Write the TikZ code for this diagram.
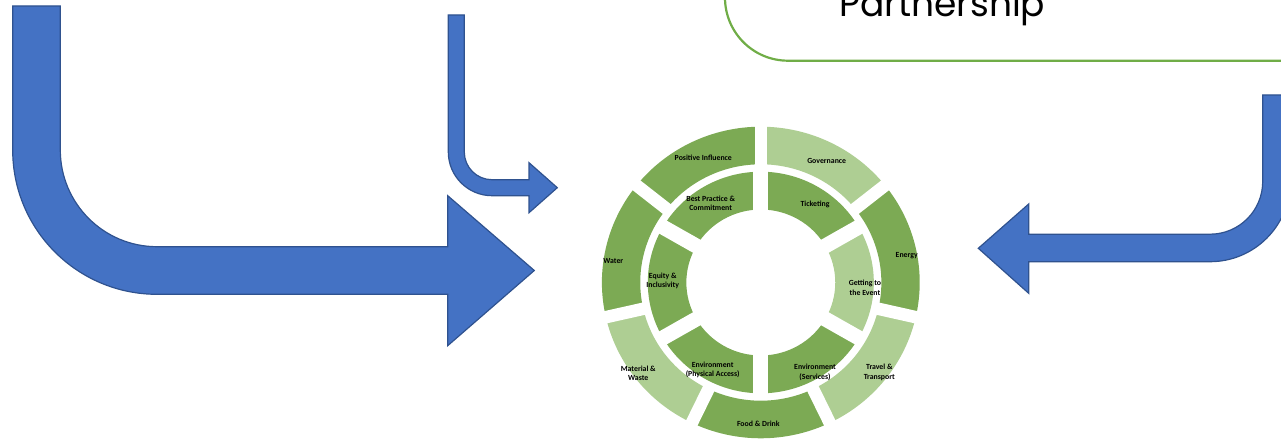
\documentclass[tikz,border=0pt]{standalone}
\usepackage{fontspec}
\setmainfont{Carlito}
\newfontfamily\titlefont{Poppins}
\definecolor{darkseg}{RGB}{124,170,84}
\definecolor{lightseg}{RGB}{174,206,147}
\definecolor{arrowblue}{RGB}{68,114,196}
\definecolor{arrowedge}{RGB}{47,82,143}
\definecolor{boxgreen}{RGB}{112,173,71}
\newcommand\ringseg[5]{\fill[#5] (#1:#3) arc[start angle=#1, end angle=#2, radius=#3] -- (#2:#4) arc[start angle=#2, end angle=#1, radius=#4] -- cycle;}
\begin{document}
\begin{tikzpicture}[x=1pt,y=-1pt,
  arrowshape/.style={fill=arrowblue, draw=arrowedge, line width=1.2pt, line join=miter},
  seglabel/.style={font=\bfseries\fontsize{7.8}{9.4}\selectfont, align=center, inner sep=0pt, text=black},
  gapline/.style={draw=white, line width=#1},
  titlebox/.style={draw=boxgreen, line width=2.2pt, rounded corners=63pt}]
\useasboundingbox (0,0) rectangle (1281,446);

% title box (partly outside the picture)
\draw[titlebox] (725,-120) rectangle (1420,60.7);
\node[font=\titlefont\fontsize{36}{40}\selectfont, anchor=base, inner sep=0pt] (title) at (942.5,17) {Partnership};

% big left arrow
\path[arrowshape] (12.7,6) -- (60.3,6) -- (60.3,150)
  arc[start angle=180, end angle=90, radius=96.7]
  -- (447.7,246.7) -- (447.7,195.7) -- (534.3,270.5) -- (447.7,345.7) -- (447.7,294.3)
  -- (157,294.3) arc[start angle=90, end angle=180, radius=144.3] -- cycle;

% small arrow
\path[arrowshape] (448.3,15) -- (464.3,15) -- (464.3,152)
  arc[start angle=180, end angle=90, radius=27.7]
  -- (529,179.7) -- (529,162.7) -- (557.3,187.7) -- (529,212.7) -- (529,195.7)
  -- (492,195.7) arc[start angle=90, end angle=180, radius=43.7] -- cycle;

% right arrow
\path[arrowshape] (1262.7,95) -- (1262.7,181.5)
  arc[start angle=0, end angle=90, radius=52.7]
  -- (1028.7,234.2) -- (1028.7,204) -- (978.3,248.3) -- (1028.7,293.3) -- (1028.7,261.7)
  -- (1210,261.7) arc[start angle=90, end angle=0, radius=80.2] -- (1290.2,95) -- cycle;

% doughnut
\begin{scope}[shift={(760.8,282.5)}, yscale=-1, xscale=1.02]
  % outer ring (7 segments)
  \ringseg{90}{38.571}{118.2}{155.8}{lightseg}
  \ringseg{38.571}{-12.857}{118.2}{155.8}{darkseg}
  \ringseg{-12.857}{-64.286}{118.2}{155.8}{lightseg}
  \ringseg{-64.286}{-115.714}{118.2}{155.8}{darkseg}
  \ringseg{-115.714}{-167.143}{118.2}{155.8}{lightseg}
  \ringseg{-167.143}{-218.571}{118.2}{155.8}{darkseg}
  \ringseg{-218.571}{-270}{118.2}{155.8}{darkseg}
  % inner ring (6 segments)
  \ringseg{90}{30}{73}{110.8}{darkseg}
  \ringseg{30}{-30}{73}{110.8}{lightseg}
  \ringseg{-30}{-90}{73}{110.8}{darkseg}
  \ringseg{-90}{-150}{73}{110.8}{darkseg}
  \ringseg{-150}{-210}{73}{110.8}{darkseg}
  \ringseg{-210}{-270}{73}{110.8}{darkseg}
  % gaps
  \foreach \k in {0,...,6}
    \draw[gapline=12.5pt] ({90-\k*360/7}:115) -- ({90-\k*360/7}:159);
  \foreach \a in {90,30,-30,-90,-150,150}
    \draw[gapline=15pt] (\a:70) -- (\a:113);
\end{scope}

% labels
\node[seglabel] (pinf) at (703.3,157.7) {Positive Influence};
\node[seglabel] (gov) at (826.7,160.7) {Governance};
\node[seglabel] (best) at (710.7,203.3) {Best Practice \&\\Commitment};
\node[seglabel] (tick) at (815,204) {Ticketing};
\node[seglabel] (water) at (613.3,261) {Water};
\node[seglabel] (energy) at (906.7,256) {Energy};
\node[seglabel] (equity) at (662.7,280.7) {Equity \&\\Inclusivity};
\node[seglabel] (getting) at (865,287.7) {Getting to\\the Event};
\node[seglabel] (material) at (638.3,373.3) {Material \&\\Waste};
\node[seglabel] (envphys) at (712.7,370) {Environment\\(Physical Access)};
\node[seglabel] (envserv) at (815,372.3) {Environment\\(Services)};
\node[seglabel] (travel) at (879.3,372.3) {Travel \&\\Transport};
\node[seglabel] (food) at (758.3,423.3) {Food \& Drink};
\end{tikzpicture}
\end{document}
